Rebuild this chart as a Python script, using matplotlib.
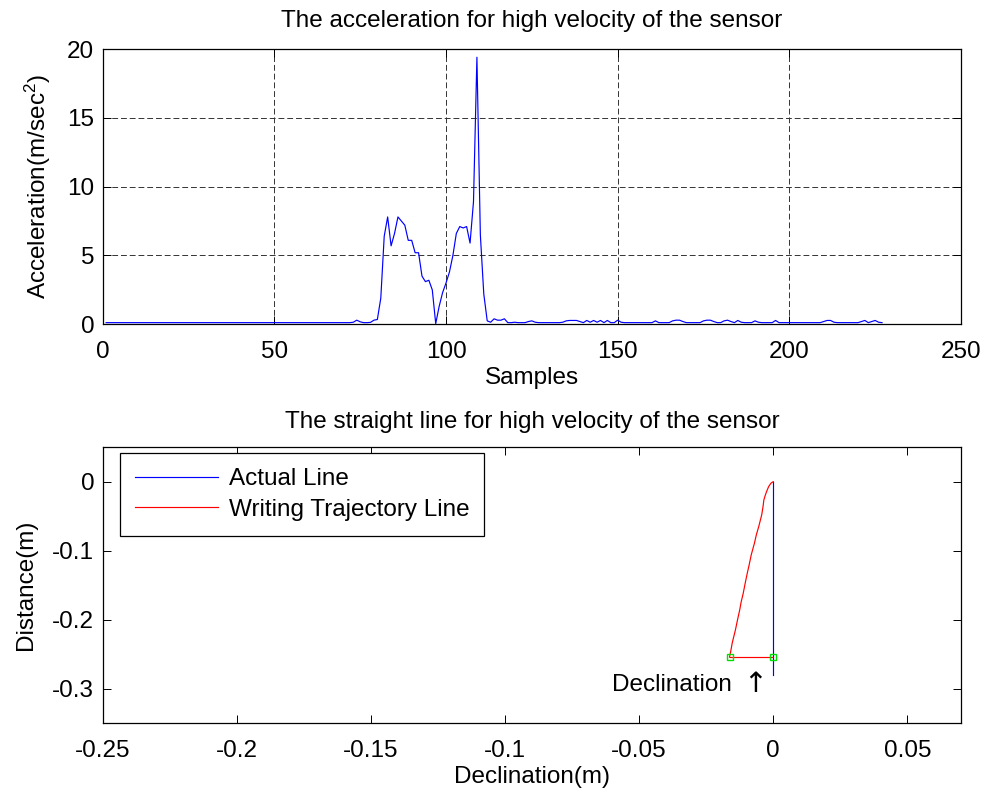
import matplotlib
matplotlib.use("Agg")
import matplotlib.pyplot as plt
import numpy as np

# ---------------- data ----------------
accel = [
    0.12, 0.12, 0.12, 0.12, 0.12, 0.12, 0.12, 0.12, 0.12, 0.12, 0.12, 0.12,
    0.12, 0.12, 0.12, 0.12, 0.12, 0.12, 0.12, 0.12, 0.12, 0.12, 0.12, 0.12,
    0.12, 0.12, 0.12, 0.12, 0.12, 0.12, 0.12, 0.12, 0.12, 0.12, 0.12, 0.12,
    0.12, 0.12, 0.12, 0.12, 0.12, 0.12, 0.12, 0.12, 0.12, 0.12, 0.12, 0.12,
    0.12, 0.12, 0.12, 0.12, 0.12, 0.12, 0.12, 0.12, 0.12, 0.12, 0.12, 0.12,
    0.12, 0.12, 0.12, 0.12, 0.12, 0.12, 0.12, 0.12, 0.12, 0.12, 0.12, 0.12,
    0.15, 0.3, 0.18, 0.12, 0.12, 0.14, 0.3, 0.35,
    1.9, 6.4, 7.8, 5.7, 6.6, 7.8, 7.5, 7.2, 6.1, 6.1,
    5.2, 5.2, 3.5, 3.1, 3.2, 2.5, 0.05, 1.3, 2.3, 3.0,
    3.8, 5.0, 6.6, 7.1, 7.0, 7.1, 5.9, 8.9, 19.4, 6.5,
    2.2, 0.25, 0.15, 0.4, 0.3, 0.3, 0.4, 0.12, 0.12, 0.15,
    0.12, 0.12, 0.12, 0.2, 0.25, 0.15, 0.12, 0.12, 0.12, 0.12,
    0.12, 0.12, 0.12, 0.15, 0.25, 0.28, 0.28, 0.28, 0.2, 0.12,
    0.28, 0.15, 0.28, 0.15, 0.28, 0.12, 0.28, 0.12, 0.12, 0.3,
    0.15, 0.12, 0.12, 0.12, 0.12, 0.12, 0.12, 0.12, 0.12, 0.12,
    0.25, 0.12, 0.12, 0.12, 0.12, 0.25, 0.3, 0.3, 0.2, 0.12,
    0.12, 0.12, 0.12, 0.12, 0.25, 0.3, 0.3, 0.2, 0.12, 0.12,
    0.25, 0.3, 0.2, 0.12, 0.28, 0.15, 0.12, 0.12, 0.12, 0.25,
    0.15, 0.12, 0.12, 0.12, 0.12, 0.28, 0.12, 0.12, 0.12, 0.12,
    0.12, 0.12, 0.12, 0.12, 0.12, 0.12, 0.12, 0.12, 0.12, 0.2,
    0.28, 0.28, 0.15, 0.12, 0.12, 0.12, 0.12, 0.12, 0.12, 0.12,
    0.2, 0.28, 0.12, 0.2, 0.28, 0.15, 0.12,
]
top_xticks = [0, 50, 100, 150, 200, 250]
top_yticks = [0, 5, 10, 15, 20]

actual_x = [0.0, 0.0]
actual_y = [0.0, -0.28]
traj_x = [0.0, -0.0008, -0.0017, -0.0025, -0.0030, -0.0035, -0.0038,
          -0.0043, -0.0054, -0.0063, -0.0070, -0.0082, -0.0090, -0.0097,
          -0.0105, -0.0112, -0.0120, -0.0125, -0.0133, -0.0141, -0.0148,
          -0.0153, -0.0158, -0.0163]
traj_y = [0.0, -0.002, -0.007, -0.0145, -0.020, -0.0265, -0.036,
          -0.048, -0.065, -0.077, -0.089, -0.106, -0.121, -0.133,
          -0.148, -0.162, -0.175, -0.186, -0.200, -0.215, -0.226,
          -0.234, -0.245, -0.2545]
decl_x = [-0.0163, 0.0]
decl_y = [-0.2545, -0.2545]

bot_xticks = [-0.25, -0.2, -0.15, -0.1, -0.05, 0, 0.05]
bot_xticklabels = ["-0.25", "-0.2", "-0.15", "-0.1", "-0.05", "0", "0.05"]
bot_yticks = [-0.3, -0.2, -0.1, 0]
bot_yticklabels = ["-0.3", "-0.2", "-0.1", "0"]

# ---------------- style ----------------
FS = 17.5
plt.rcParams['font.family'] = ['Liberation Sans', 'DejaVu Sans']
plt.rcParams['font.size'] = FS
plt.rcParams['axes.unicode_minus'] = False
plt.rcParams['mathtext.fontset'] = 'custom'
plt.rcParams['mathtext.rm'] = 'Liberation Sans'
plt.rcParams['mathtext.it'] = 'Liberation Sans'

W, H = 987, 795
fig = plt.figure(figsize=(W / 100, H / 100), dpi=100)

def frac_axes(l, t, r, b):
    return fig.add_axes([l / W, 1 - b / H, (r - l) / W, (b - t) / H])

def style(ax, xpad):
    for s in ax.spines.values():
        s.set_linewidth(0.9)
        s.set_color('black')
    ax.tick_params(direction='in', length=6, width=0.7, top=True, right=True,
                   labelsize=FS, colors='black')
    ax.tick_params(axis='x', pad=xpad)
    ax.tick_params(axis='y', pad=6)

# ---------------- top plot ----------------
ax1 = frac_axes(102.7, 49.0, 961.0, 324.3)
samples = np.arange(1, len(accel) + 1)
ax1.plot(samples, accel, color='#0000ff', lw=0.85)
ax1.set_xlim(0, 250)
ax1.set_ylim(0, 20)
ax1.set_xticks(top_xticks)
ax1.set_yticks(top_yticks)
ax1.grid(True, color='0.2', linestyle=(0, (6, 3)), linewidth=0.7)
style(ax1, 12)
ax1.set_xlabel('Samples', labelpad=3)
ax1.set_ylabel('Acceleration(m/sec$^2$)', labelpad=10)
ax1.set_title('The acceleration for high velocity of the sensor', pad=16,
              fontsize=FS)

# ---------------- bottom plot ----------------
ax2 = frac_axes(102.7, 447.2, 961.0, 723.0)
l1, = ax2.plot(actual_x, actual_y, color='#0000ff', lw=0.85, label='Actual Line')
l2, = ax2.plot(traj_x, traj_y, color='#ff0000', lw=0.85,
               label='Writing Trajectory Line')
ax2.plot(decl_x, decl_y, color='#ff0000', lw=0.85, marker='s', markersize=4,
         markerfacecolor='none', markeredgecolor='#00e000', markeredgewidth=1.0,
         zorder=3)
ax2.set_xlim(-0.25, 0.07)
ax2.set_ylim(-0.35, 0.05)
ax2.set_xticks(bot_xticks)
ax2.set_xticklabels(bot_xticklabels)
ax2.set_yticks(bot_yticks)
ax2.set_yticklabels(bot_yticklabels)
style(ax2, 12)
ax2.set_xlabel('Declination(m)', labelpad=3)
ax2.set_ylabel('Distance(m)', labelpad=11)
ax2.set_title('The straight line for high velocity of the sensor', pad=14,
              fontsize=FS)
ax2.text(-0.06, -0.295, 'Declination', ha='left', va='center', fontsize=FS)
ax2.text(-0.0112, -0.2935, '\u2191', ha='left', va='center', fontsize=FS + 3,
         family=['DejaVu Sans'])

leg = ax2.legend(handles=[l1, l2], loc='upper left',
                 bbox_to_anchor=(0.0202, 0.979), borderaxespad=0,
                 fancybox=False, framealpha=1, edgecolor='black',
                 handlelength=3.4, handletextpad=0.45, labelspacing=0.35,
                 borderpad=0.62, fontsize=FS)
leg.get_frame().set_linewidth(0.9)

fig.savefig('out.png', dpi=100)
